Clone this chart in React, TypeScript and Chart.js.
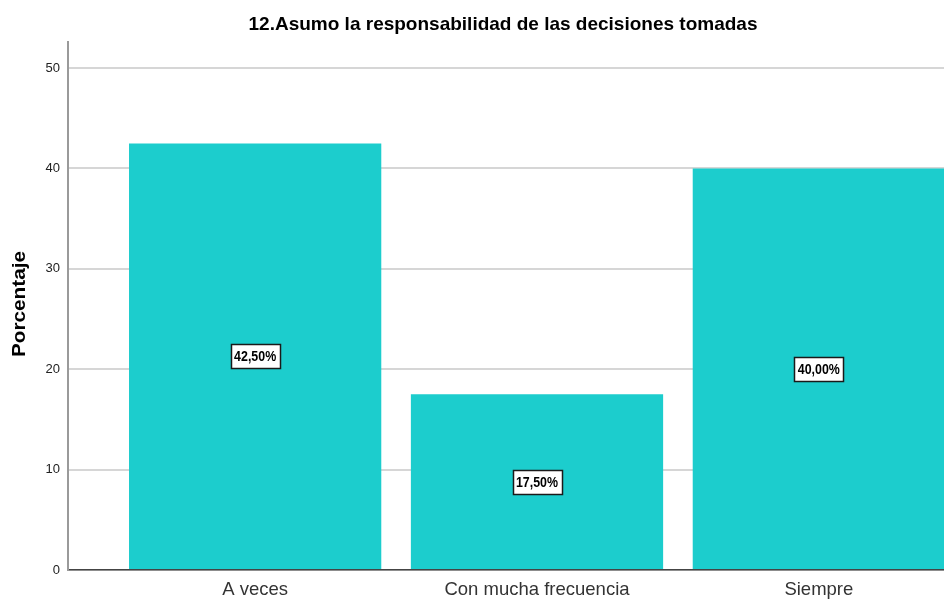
import React, { useEffect, useRef } from 'react';
import { Chart, registerables } from 'chart.js';

Chart.register(...registerables);

const categories = ['A veces', 'Con mucha frecuencia', 'Siempre'];
const percentages = [42.5, 17.5, 40.0];
const valueLabels = ['42,50%', '17,50%', '40,00%'];
const yTicks = [0, 10, 20, 30, 40, 50];
const chartTitle = '12.Asumo la responsabilidad de las decisiones tomadas';
const yAxisTitle = 'Porcentaje';

const textPlugin = {
  id: 'spssText',
  afterDraw(chart: any) {
    const ctx = chart.ctx;
    ctx.save();
    ctx.fillStyle = '#000';
    ctx.font = 'bold 19px "Liberation Sans", Arial, sans-serif';
    ctx.textAlign = 'center';
    ctx.textBaseline = 'middle';
    ctx.fillText(chartTitle, chart.width / 2, 25);
    ctx.translate(20, 304);
    ctx.rotate(-Math.PI / 2);
    ctx.scale(1.12, 1);
    ctx.font = 'bold 18.5px "Liberation Sans", Arial, sans-serif';
    ctx.fillText(yAxisTitle, 0, 0);
    ctx.restore();
  },
  afterDatasetsDraw(chart: any) {
    const ctx = chart.ctx;
    const meta = chart.getDatasetMeta(0);
    ctx.save();
    ctx.font = 'bold 15.5px "Liberation Sans", Arial, sans-serif';
    ctx.textAlign = 'center';
    ctx.textBaseline = 'middle';
    meta.data.forEach((el: any, i: number) => {
      const cx = el.x;
      const cy = (el.y + el.base) / 2;
      const txt = valueLabels[i];
      const w = 49;
      const h = 24;
      const bx = Math.round(cx - w / 2) + 0.5;
      const by = Math.round(cy - h / 2) + 0.5;
      ctx.fillStyle = '#fff';
      ctx.fillRect(bx, by, w, h);
      ctx.strokeStyle = '#1a1a1a';
      ctx.lineWidth = 1.5;
      ctx.strokeRect(bx, by, w, h);
      ctx.fillStyle = '#000';
      ctx.save();
      ctx.translate(cx, cy + 1);
      ctx.scale(0.8, 1);
      ctx.fillText(txt, 0, 0);
      ctx.restore();
    });
    ctx.restore();
  },
};

export default function App() {
  const ref = useRef<HTMLCanvasElement>(null);
  useEffect(() => {
    if (!ref.current) return;
    const chart = new Chart(ref.current, {
      type: 'bar',
      data: {
        datasets: [
          {
            data: percentages.map((v, i) => ({ x: i, y: v })),
            backgroundColor: '#1ccdcd',
            borderWidth: 0,
            categoryPercentage: 1,
            barPercentage: 0.895,
          },
        ],
      },
      options: {
        animation: false,
        responsive: false,
        events: [],
        layout: { padding: { top: 42, left: 0, right: 0, bottom: 0 } },
        plugins: { legend: { display: false }, tooltip: { enabled: false }, title: { display: false } },
        scales: {
          x: {
            type: 'linear',
            min: -0.664,
            max: 2.664,
            offset: false,
            grid: { display: false, drawTicks: false, offset: false },
            border: { display: true, color: '#444', width: 1.5 },
            afterBuildTicks: (scale: any) => {
              scale.ticks = categories.map((_, i) => ({ value: i }));
            },
            afterFit: (scale: any) => {
              scale.height = 31;
            },
            ticks: {
              padding: 9,
              color: '#333',
              font: { family: '"Liberation Sans", Arial, sans-serif', size: 18.5 },
              callback: (v: any) => categories[v] ?? '',
              maxRotation: 0,
              autoSkip: false,
            },
          },
          y: {
            type: 'linear',
            min: 0,
            max: 52.6,
            grid: { color: '#d6d6d6', lineWidth: 2, drawTicks: false },
            border: { display: true, color: '#9a9a9a', width: 2 },
            afterBuildTicks: (scale: any) => {
              scale.ticks = yTicks.map((v) => ({ value: v }));
            },
            afterFit: (scale: any) => {
              scale.width = 68;
            },
            ticks: {
              padding: 8,
              color: '#222',
              font: { family: '"Liberation Sans", Arial, sans-serif', size: 13 },
            },
          },
        },
      },
      plugins: [textPlugin],
    } as any);
    return () => chart.destroy();
  }, []);
  return (
    <div style={{ position: 'fixed', left: 0, top: 0, width: 944, height: 601, overflow: 'hidden', background: '#fff' }}>
      <canvas ref={ref} width={1006} height={601} style={{ display: 'block' }} />
    </div>
  );
}
